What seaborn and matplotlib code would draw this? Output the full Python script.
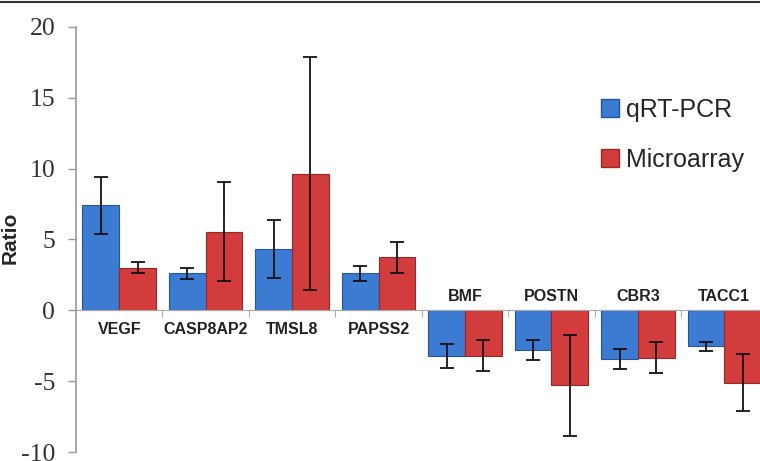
"""
Ratio qRT-PCR vs Microarray por gen (barras agrupadas con barras de error)
"""

import matplotlib
matplotlib.use('Agg')
import matplotlib.pyplot as plt
import matplotlib.lines as mlines
import matplotlib.patches as mpatches
import seaborn as sns
import numpy as np
import pandas as pd

# Datos
genes = ['VEGF', 'CASP8AP2', 'TMSL8', 'PAPSS2', 'BMF', 'POSTN', 'CBR3', 'TACC1']
metodos = ['qRT-PCR', 'Microarray']
qrt_pcr = [7.4, 2.6, 4.35, 2.6, -3.2, -2.8, -3.45, -2.55]
qrt_pcr_err = [2.0, 0.4, 2.05, 0.5, 0.85, 0.7, 0.7, 0.3]
microarray = [3.0, 5.55, 9.65, 3.75, -3.2, -5.3, -3.35, -5.1]
microarray_err = [0.4, 3.5, 8.2, 1.1, 1.1, 3.55, 1.1, 2.0]

colores = {'qRT-PCR': '#3b7bd2', 'Microarray': '#d23c3c'}
bordes = {'qRT-PCR': '#26569a', 'Microarray': '#962828'}

df = pd.DataFrame({
    'gen': genes * 2,
    'metodo': [metodos[0]] * len(genes) + [metodos[1]] * len(genes),
    'ratio': qrt_pcr + microarray,
})

sns.set_style('white')
plt.rcParams['font.family'] = ['Liberation Sans', 'DejaVu Sans']
plt.rcParams['axes.unicode_minus'] = False

fig = plt.figure(figsize=(7.6, 4.61), dpi=100)
ax = fig.add_axes([0.1, 0.0195, 0.91, 0.922])

sns.barplot(data=df, x='gen', y='ratio', hue='metodo', order=genes,
            hue_order=metodos, palette=colores, width=0.85, gap=0,
            saturation=1, errorbar=None, legend=False, ax=ax)

# Bordes y barras de error a partir de los patches que dibuja seaborn
barras = [p for p in ax.patches if p.get_width() > 0]
errores = {'qRT-PCR': qrt_pcr_err, 'Microarray': microarray_err}
for p in barras:
    xc = p.get_x() + p.get_width() / 2
    i = int(round(xc))
    metodo = metodos[0] if xc < i else metodos[1]
    p.set_edgecolor(bordes[metodo])
    p.set_linewidth(0.8)
    ax.errorbar(xc, p.get_height(), yerr=errores[metodo][i], fmt='none',
                ecolor='#111111', elinewidth=1.3, capsize=5, capthick=1.3,
                zorder=5)

ax.set_xlim(-0.5, 7.5)
ax.set_ylim(-10, 20)
ax.set_yticks(np.arange(-10, 21, 5))
for lab in ax.get_yticklabels():
    lab.set_family('Liberation Serif')
ax.tick_params(axis='y', labelsize=18.5, labelcolor='#333333', length=6,
               width=1, color='#999999', direction='out', pad=9, left=True)

# eje x en cero con marcas entre categorías
ax.spines['bottom'].set_position(('data', 0))
ax.spines['bottom'].set_color('#aaaaaa')
ax.spines['left'].set_color('#999999')
ax.spines['left'].set_linewidth(1.2)
ax.spines['top'].set_visible(False)
ax.spines['right'].set_visible(False)
ax.set_xticks(np.arange(0.5, 7, 1))
ax.set_xticklabels([])
ax.tick_params(axis='x', length=5, color='#aaaaaa', direction='out',
               bottom=True)
ax.set_xlabel('')
ax.set_ylabel('Ratio', fontsize=15, fontweight='bold')
ax.yaxis.set_label_coords(-0.081, 0.503)

# etiquetas de genes: debajo del cero si positivo, encima si negativo
for i, g in enumerate(genes):
    if qrt_pcr[i] > 0:
        ax.text(i, -1.35, g, ha='center', va='center', fontsize=11.5,
                fontweight='bold', color='#222222')
    else:
        ax.text(i, 1.0, g, ha='center', va='center', fontsize=11.5,
                fontweight='bold', color='#222222')

handles = [mpatches.Patch(facecolor=colores[m], edgecolor=bordes[m]) for m in metodos]
fig.legend(handles, metodos, loc='upper left', bbox_to_anchor=(0.777, 0.81),
           frameon=False, fontsize=18, handlelength=0.75, handleheight=0.75,
           handletextpad=0.25, labelspacing=1.05, borderaxespad=0)

# línea del marco superior
fig.add_artist(mlines.Line2D([0, 1], [0.996, 0.996], color='#333333',
                             linewidth=1.5, transform=fig.transFigure))

fig.savefig('out.png', dpi=100)
print("Gráfico guardado en out.png")
